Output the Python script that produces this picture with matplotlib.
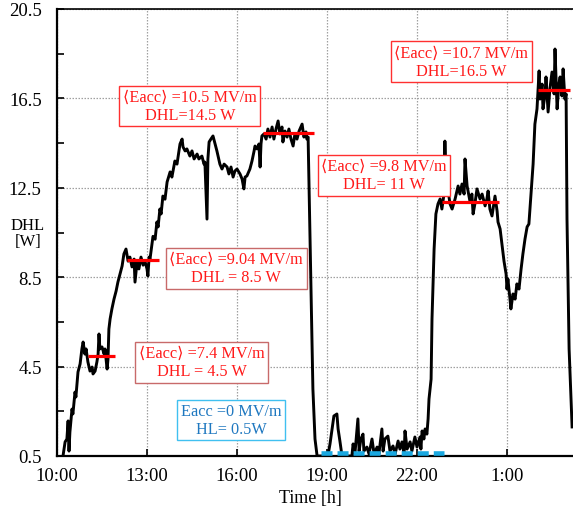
import matplotlib
matplotlib.use("Agg")
import matplotlib.pyplot as plt

plt.rcParams['font.family'] = ['Liberation Serif', 'DejaVu Serif', 'DejaVu Sans']

# ---- data: time [h since 0:00 of day 1], DHL [W] ----
time_h = [10.20, 10.27, 10.33, 10.37, 10.40, 10.43, 10.50, 10.53, 10.60, 10.63,
          10.70, 10.77, 10.83, 10.87, 10.93, 10.97, 11.03, 11.10, 11.17, 11.20,
          11.27, 11.33, 11.37, 11.40, 11.43, 11.50, 11.57, 11.60, 11.67, 11.70,
          11.73, 11.77, 11.83, 11.90, 11.97, 12.03, 12.10, 12.17, 12.23, 12.30,
          12.37, 12.43, 12.50, 12.57, 12.60, 12.67, 12.73, 12.80, 12.87, 12.93,
          13.00, 13.03, 13.07, 13.10, 13.20, 13.27, 13.33, 13.37, 13.43, 13.47,
          13.53, 13.60, 13.67, 13.77, 13.83, 13.93, 14.00, 14.10, 14.17, 14.20,
          14.27, 14.33, 14.43, 14.50, 14.57, 14.67, 14.73, 14.83, 14.90, 14.93,
          15.00, 15.03, 15.07, 15.13, 15.20, 15.27, 15.33, 15.43, 15.50, 15.57,
          15.67, 15.73, 15.80, 15.87, 15.93, 16.00, 16.10, 16.17, 16.23, 16.27,
          16.33, 16.43, 16.50, 16.57, 16.60, 16.67, 16.73, 16.77, 16.80, 16.83,
          16.90, 16.97, 17.03, 17.10, 17.17, 17.23, 17.30, 17.37, 17.43, 17.50,
          17.53, 17.60, 17.67, 17.73, 17.80, 17.87, 17.93, 18.00, 18.07, 18.13,
          18.17, 18.23, 18.30, 18.33, 18.37, 18.40, 18.47, 18.53, 18.60, 18.67,
          19.03, 19.10, 19.17, 19.23, 19.33, 19.37, 19.43, 19.50, 19.83, 19.87,
          19.93, 20.03, 20.07, 20.13, 20.20, 20.23, 20.33, 20.40, 20.50, 20.57,
          20.67, 20.73, 20.83, 20.87, 20.93, 21.03, 21.10, 21.20, 21.27, 21.37,
          21.43, 21.50, 21.57, 21.60, 21.67, 21.77, 21.83, 21.93, 22.00, 22.10,
          22.13, 22.17, 22.23, 22.27, 22.33, 22.37, 22.40, 22.47, 22.50, 22.57,
          22.63, 22.70, 22.77, 22.83, 22.90, 22.93, 22.97, 23.03, 23.10, 23.17,
          23.27, 23.37, 23.43, 23.50, 23.57, 23.60, 23.67, 23.77, 23.83, 23.87,
          23.93, 24.00, 24.10, 24.17, 24.27, 24.33, 24.37, 24.43, 24.50, 24.60,
          24.67, 24.70, 24.77, 24.83, 24.90, 24.97, 25.00, 25.03, 25.10, 25.13,
          25.20, 25.27, 25.33, 25.40, 25.47, 25.53, 25.60, 25.67, 25.73, 25.80,
          25.87, 25.93, 26.00, 26.07, 26.10, 26.17, 26.20, 26.27, 26.30, 26.37,
          26.43, 26.50, 26.57, 26.60, 26.67, 26.73, 26.77, 26.83, 26.87, 26.93,
          26.97, 27.00, 27.07, 27.17]
dhl_w = [0.50, 1.13, 1.26, 2.07, 0.72, 1.57, 2.60, 2.38, 3.36, 3.14,
         4.26, 4.62, 5.29, 5.60, 5.06, 5.29, 4.71, 4.30, 4.48, 4.17,
         4.30, 4.71, 5.06, 5.96, 5.29, 5.38, 5.06, 5.29, 4.39, 4.84,
         6.18, 6.63, 7.08, 7.52, 7.88, 8.28, 8.64, 9.00, 9.54, 9.76,
         9.22, 9.40, 8.96, 9.31, 8.28, 9.22, 8.87, 9.40, 9.04, 9.22,
         8.87, 8.55, 9.40, 9.31, 10.33, 10.20, 10.97, 10.75, 11.55, 11.33,
         12.13, 11.99, 12.76, 13.21, 12.98, 13.70, 13.56, 14.46, 14.68, 14.33,
         14.15, 14.24, 13.92, 14.15, 13.79, 14.01, 13.79, 13.92, 13.56, 13.65,
         11.10, 13.79, 14.55, 14.68, 14.82, 14.46, 14.15, 13.56, 13.34, 13.56,
         13.43, 13.12, 13.43, 12.98, 13.25, 13.34, 13.12, 12.89, 12.45, 12.98,
         13.03, 13.34, 13.70, 14.15, 14.37, 14.24, 14.46, 13.43, 14.46, 14.82,
         14.91, 14.68, 15.13, 14.77, 15.22, 14.68, 15.13, 15.49, 14.91, 15.22,
         14.55, 15.04, 14.77, 15.13, 14.68, 14.37, 14.91, 14.68, 15.04, 15.22,
         15.35, 14.77, 15.00, 14.68, 14.77, 12.67, 7.97, 3.50, 1.26, 0.50,
         0.50, 1.04, 1.71, 2.29, 2.38, 1.71, 1.17, 0.50, 0.50, 1.04,
         0.59, 2.16, 0.72, 1.26, 1.48, 0.72, 0.90, 0.59, 1.26, 0.59,
         0.90, 0.59, 1.71, 0.72, 1.26, 1.39, 0.72, 0.95, 0.59, 1.17,
         0.81, 1.13, 0.59, 1.62, 0.81, 1.13, 0.72, 1.35, 0.90, 1.35,
         0.81, 1.62, 1.26, 1.71, 1.48, 2.16, 3.05, 3.94, 6.63, 9.76,
         11.33, 11.78, 12.00, 11.55, 12.22, 14.59, 12.67, 12.45, 11.78, 11.55,
         12.00, 12.58, 12.22, 12.67, 12.22, 13.79, 12.58, 11.86, 12.22, 11.33,
         11.78, 12.45, 12.00, 12.22, 11.69, 12.00, 12.36, 11.55, 11.24, 12.13,
         11.46, 10.97, 10.66, 9.99, 9.22, 8.64, 7.97, 8.42, 7.52, 7.08,
         7.75, 7.52, 8.20, 7.97, 8.87, 9.54, 10.21, 10.75, 10.88, 12.22,
         13.56, 15.35, 16.03, 17.73, 16.47, 17.14, 16.03, 16.70, 17.46, 15.89,
         16.92, 17.68, 16.70, 18.71, 16.03, 17.14, 17.46, 16.61, 17.82, 16.47,
         16.70, 11.10, 5.29, 1.80]

# mean DHL segments
mean_start = [11.03, 12.33, 16.87, 22.83, 26.03]
mean_end = [11.93, 13.40, 18.57, 24.73, 27.10]
mean_level = [4.97, 9.27, 14.95, 11.86, 16.88]

# zero-field heat load segment
hl_start, hl_end, hl_level = 18.80, 22.90, 0.62

# annotations
ann_text = ["\u27e8Eacc\u27e9 =10.5 MV/m\nDHL=14.5 W",
            "\u27e8Eacc\u27e9 =9.04 MV/m\nDHL = 8.5 W",
            "\u27e8Eacc\u27e9 =7.4 MV/m\nDHL = 4.5 W",
            "\u27e8Eacc\u27e9 =9.8 MV/m\nDHL= 11 W",
            "\u27e8Eacc\u27e9 =10.7 MV/m\nDHL=16.5 W"]
ann_x = [14.43, 15.97, 14.83, 20.90, 23.47]
ann_y = [16.16, 8.91, 4.70, 13.07, 18.13]
ann_edge = ['#ff3030', '#c86a6a', '#c86a6a', '#ff3030', '#ff3030']
hl_text = "Eacc =0 MV/m\nHL= 0.5W"
hl_x, hl_y = 15.80, 2.11

x_ticks = [10, 13, 16, 19, 22, 25]
x_labels = ["10:00", "13:00", "16:00", "19:00", "22:00", "1:00"]
y_ticks = [0.5, 4.5, 8.5, 12.5, 16.5, 20.5]
y_minor = [2.5, 6.5, 10.5, 14.5, 18.5]

fig = plt.figure(figsize=(5.73, 5.10), dpi=100)
ax = fig.add_axes([57 / 573, 1 - 457 / 510, 1 - 57 / 573, (457 - 10) / 510])

ax.plot(time_h, dhl_w, color='black', lw=2.1, zorder=3)
ax.hlines(mean_level, mean_start, mean_end, colors='#ff0000', lw=2.3, zorder=4)
ax.plot([hl_start, hl_end], [hl_level, hl_level], color='#1aa8e0', lw=3.3,
        linestyle=(0, (2.4, 1.1)), solid_capstyle='butt', zorder=5)

for s, x, y, ec in zip(ann_text, ann_x, ann_y, ann_edge):
    ax.text(x, y, s, ha='center', va='center', multialignment='center',
            color='#ff1a1a', fontsize=11.7, linespacing=1.15, zorder=6,
            bbox=dict(boxstyle='square,pad=0.22', fc='white', ec=ec, lw=1.0))
ax.text(hl_x, hl_y, hl_text, ha='center', va='center', multialignment='center',
        color='#1f78c0', fontsize=11.7, linespacing=1.15, zorder=6,
        bbox=dict(boxstyle='square,pad=0.22', fc='white', ec='#40c0f0', lw=1.0))

ax.set_xlim(10, 27.2)
ax.set_ylim(0.5, 20.5)
ax.set_xticks(x_ticks)
ax.set_xticklabels(x_labels)
ax.set_yticks(y_ticks)
ax.set_yticks(y_minor, minor=True)
ax.tick_params(axis='both', which='major', direction='in', length=5, width=1.2,
               labelsize=13.5)
ax.tick_params(axis='y', which='major', pad=11)
ax.tick_params(axis='x', which='major', pad=8)
ax.tick_params(axis='y', which='minor', direction='in', length=5, width=1.2)
ax.grid(True, which='major', color='#a0a0a0', linestyle=(0, (1.2, 1.2)), lw=0.9)
ax.set_axisbelow(True)

ax.spines['right'].set_visible(False)
for sp in ['left', 'bottom']:
    ax.spines[sp].set_linewidth(1.6)
ax.spines['top'].set_linewidth(1.2)

fig.text(28 / 573, 1 - 234 / 510, "DHL\n[W]", ha='center', va='center',
         fontsize=12, linespacing=1.0)
fig.text(310 / 573, 1 - 499 / 510, "Time [h]", ha='center', va='center',
         fontsize=13)

fig.savefig("out.png", dpi=100)
